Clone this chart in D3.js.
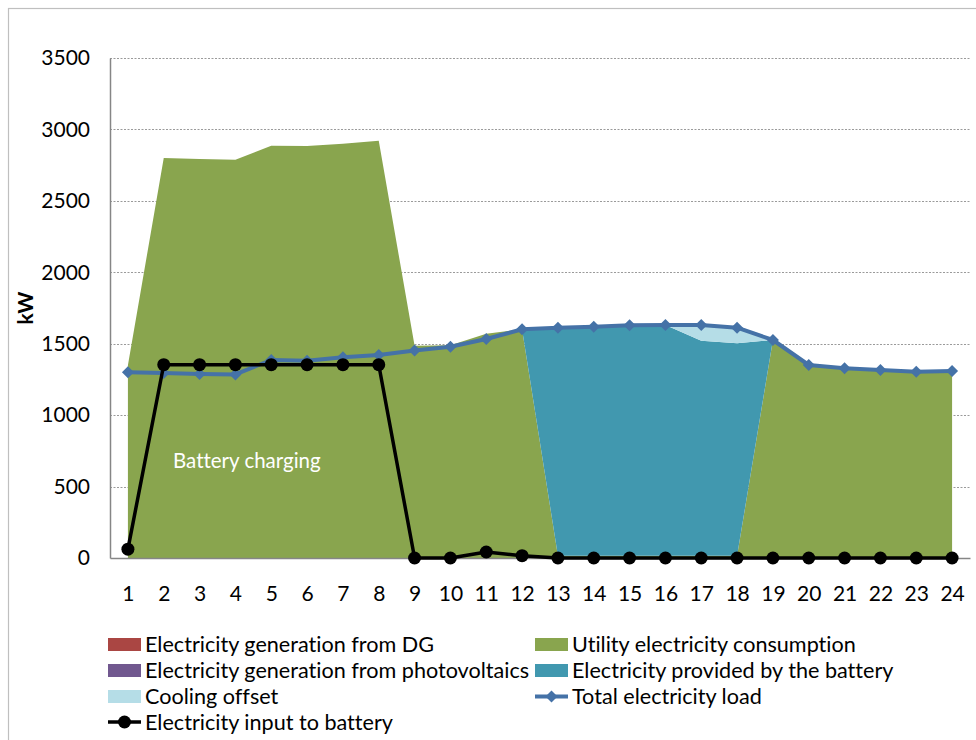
<!DOCTYPE html>
<html>
<head>
<meta charset="utf-8">
<script src="https://cdn.jsdelivr.net/npm/d3@7"></script>
<style>
  html, body { margin: 0; padding: 0; background: #fff; }
  svg { display: block; font-family: Lato, "Open Sans", sans-serif; font-variant-ligatures: none; font-feature-settings: "liga" 0, "clig" 0; }
</style>
</head>
<body>
<svg id="chart" width="976" height="740"></svg>
<script>
// ---- data ----
const hours = [1,2,3,4,5,6,7,8,9,10,11,12,13,14,15,16,17,18,19,20,21,22,23,24];
const dgGeneration = [0,0,0,0,0,0,0,0,0,0,0,0,0,0,0,0,0,0,0,0,0,0,0,0];
const pvGeneration = [0,0,0,0,0,0,0,0,0,0,0,0,0,0,0,0,0,0,0,0,0,0,0,0];
const utilityConsumption = [1350,2800,2793,2788,2886,2884,2900,2921,1485,1490,1570,1600,15,15,15,15,15,15,1526,1351,1328,1316,1304,1309];
const batteryProvided = [0,0,0,0,0,0,0,0,0,0,0,0,1597,1604,1614,1616,1506,1488,0,0,0,0,0,0];
const coolingOffset = [0,0,0,0,0,0,0,0,0,0,0,0,0,0,0,0,110,109,0,0,0,0,0,0];
const totalLoad = [1300,1295,1288,1285,1386,1381,1405,1421,1453,1479,1533,1601,1612,1619,1629,1631,1631,1612,1526,1351,1328,1316,1304,1309];
const batteryInput = [62,1353,1353,1353,1353,1353,1353,1353,0,0,42,16,0,0,0,0,0,0,0,0,0,0,0,0];
const yTicks = [0,500,1000,1500,2000,2500,3000,3500];

const areaSeries = [
  {key: "dg", name: "Electricity generation from DG", values: dgGeneration, color: "#AA4643"},
  {key: "pv", name: "Electricity generation from photovoltaics", values: pvGeneration, color: "#71588F"},
  {key: "util", name: "Utility electricity consumption", values: utilityConsumption, color: "#89A54E"},
  {key: "batt", name: "Electricity provided by the battery", values: batteryProvided, color: "#4198AF"},
  {key: "cool", name: "Cooling offset", values: coolingOffset, color: "#B5DDE7"}
];

const svg = d3.select("#chart");
const plotLeft = 110, plotRight = 970, plotTop = 58, plotBottom = 558;

const x = d3.scalePoint().domain(hours).range([plotLeft, plotRight]).padding(0.5);
const y = d3.scaleLinear().domain([0, 3500]).range([plotBottom, plotTop]);

// outer border
svg.append("rect").attr("x", 8.5).attr("y", 8.5).attr("width", 1000).attr("height", 1000)
  .attr("fill", "none").attr("stroke", "#BFBFBF").attr("stroke-width", 1.2);

// gridlines
svg.append("g").selectAll("line").data(yTicks.filter(d => d > 0)).join("line")
  .attr("x1", plotLeft).attr("x2", plotRight)
  .attr("y1", d => Math.round(y(d)) + 0.5).attr("y2", d => Math.round(y(d)) + 0.5)
  .attr("stroke", "#9a9a9a").attr("stroke-width", 1).attr("stroke-dasharray", "2,1.5");

// stacked areas
const table = hours.map((h, i) => {
  const row = {hour: h};
  areaSeries.forEach(s => row[s.key] = s.values[i]);
  return row;
});
const stack = d3.stack().keys(areaSeries.map(s => s.key));
const stacked = stack(table);
const area = d3.area()
  .x(d => x(d.data.hour))
  .y0(d => y(d[0]))
  .y1(d => y(d[1]));
svg.append("g").selectAll("path").data(stacked).join("path")
  .attr("d", area)
  .attr("fill", (d, i) => areaSeries[i].color);

// axes
const yAxis = d3.axisLeft(y).tickValues(yTicks).tickSize(0).tickPadding(20).tickFormat(d3.format("d"));
const gy = svg.append("g").attr("transform", `translate(${plotLeft},0)`).call(yAxis);
gy.select(".domain").attr("stroke", "#868686").attr("stroke-width", 1.5);
gy.selectAll("text").attr("font-size", 21).attr("fill", "#000").attr("font-family", "Lato, sans-serif");

const xAxis = d3.axisBottom(x).tickSize(0).tickPadding(28);
const gx = svg.append("g").attr("transform", `translate(0,${plotBottom})`).call(xAxis);
gx.select(".domain").attr("stroke", "#868686").attr("stroke-width", 1.5);
gx.selectAll("text").attr("font-size", 21).attr("fill", "#000").attr("font-family", "Lato, sans-serif");

// y label
svg.append("text").attr("transform", "translate(33,308) rotate(-90)")
  .attr("text-anchor", "middle").attr("font-weight", "bold").attr("font-size", 21).text("kW");

// annotation
svg.append("text").attr("x", 173).attr("y", 468).attr("fill", "#fff").attr("font-size", 20.5)
  .text("Battery charging");

// total load line
const line = d3.line().x((d, i) => x(hours[i])).y(d => y(d));
svg.append("path").datum(totalLoad).attr("d", line).attr("fill", "none")
  .attr("stroke", "#4572A7").attr("stroke-width", 4).attr("stroke-linejoin", "round");
const diamond = d3.symbol().type(d3.symbolSquare).size(72);
svg.append("g").selectAll("path").data(totalLoad).join("path")
  .attr("transform", (d, i) => `translate(${x(hours[i])},${y(d)}) rotate(45)`)
  .attr("d", diamond).attr("fill", "#4572A7");

// battery input line
svg.append("path").datum(batteryInput).attr("d", line).attr("fill", "none")
  .attr("stroke", "#000").attr("stroke-width", 3.5).attr("stroke-linejoin", "round");
svg.append("g").selectAll("circle").data(batteryInput).join("circle")
  .attr("cx", (d, i) => x(hours[i])).attr("cy", d => y(d)).attr("r", 6.5).attr("fill", "#000");

// legend
const legendItems = [
  {name: areaSeries[0].name, type: "area", color: areaSeries[0].color, col: 0, row: 0},
  {name: areaSeries[2].name, type: "area", color: areaSeries[2].color, col: 1, row: 0},
  {name: areaSeries[1].name, type: "area", color: areaSeries[1].color, col: 0, row: 1},
  {name: areaSeries[3].name, type: "area", color: areaSeries[3].color, col: 1, row: 1},
  {name: areaSeries[4].name, type: "area", color: areaSeries[4].color, col: 0, row: 2},
  {name: "Total electricity load", type: "diamond", color: "#4572A7", col: 1, row: 2},
  {name: "Electricity input to battery", type: "circle", color: "#000", col: 0, row: 3}
];
const colX = [108, 535], rowY = [644.5, 670.5, 696.5, 722];
const lg = svg.append("g");
legendItems.forEach(it => {
  const gx0 = colX[it.col], gy0 = rowY[it.row];
  const g = lg.append("g").attr("transform", `translate(${gx0},${gy0})`);
  if (it.type === "area") {
    g.append("rect").attr("x", 0).attr("y", -6.5).attr("width", 33).attr("height", 13).attr("fill", it.color);
  } else if (it.type === "diamond") {
    g.append("line").attr("x1", 0).attr("x2", 33).attr("stroke", it.color).attr("stroke-width", 4);
    g.append("path").attr("transform", "translate(16.5,0) rotate(45)").attr("d", diamond).attr("fill", it.color);
  } else {
    g.append("line").attr("x1", 0).attr("x2", 33).attr("stroke", it.color).attr("stroke-width", 3.5);
    g.append("circle").attr("cx", 16.5).attr("r", 6.5).attr("fill", it.color);
  }
  g.append("text").attr("x", 37).attr("y", 0).attr("dy", "0.35em").attr("font-size", 21.6).text(it.name);
});
</script>
</body>
</html>
